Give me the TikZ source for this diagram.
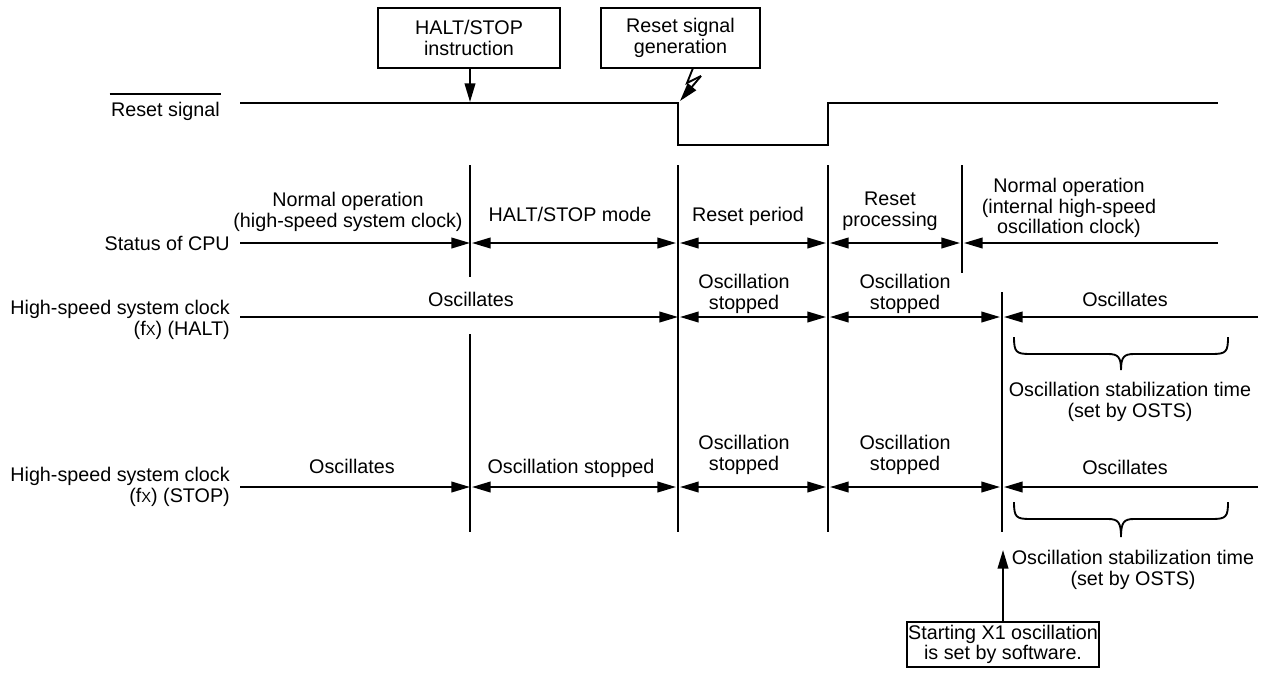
\documentclass[tikz,border=0pt]{standalone}
\usepackage{fontspec}
\setmainfont{Liberation Sans}
\usetikzlibrary{arrows.meta}
\begin{document}
\begin{tikzpicture}[x=0.75pt,y=-0.75pt,
  every node/.style={font=\fontsize{14.8}{15.5}\selectfont, inner sep=0pt},
  txt/.style={anchor=north, align=center},
  lbl/.style={anchor=north east, align=right},
  wire/.style={line width=1.4pt},
  sig/.style={line width=1.9pt},
  head/.style={-{Triangle[length=14pt,width=8pt]}},
  twohead/.style={{Triangle[length=14pt,width=8pt]}-{Triangle[length=14pt,width=8pt]}},
  box/.style={draw, line width=1.4pt, align=center, inner sep=0pt}
]
\useasboundingbox (0,0) rectangle (1269,672);

% ---- event boxes ----
\node[box, minimum width=136.5pt, minimum height=45pt] (halt) at (469,38) {HALT/STOP\\instruction};
\node[box, minimum width=119.25pt, minimum height=45pt] (rgen) at (680.5,38) {Reset signal\\generation};
\node[box, minimum width=144pt, minimum height=33.75pt] (sw) at (1003,644.5) {Starting X1 oscillation\\is set by software.};

% ---- reset signal waveform ----
\coordinate (r0) at (240,103);
\coordinate (rf) at (678,103);
\coordinate (rl) at (678,145);
\coordinate (rh) at (828,145);
\coordinate (rr) at (828,103);
\coordinate (r1) at (1218,103);
\draw[sig] (r0) -- (rf) -- (rl) -- (rh) -- (rr) -- (r1);
\coordinate (hitA) at (470,102);
\draw[wire, head] (halt.south -| hitA) -- (hitA);
% lightning from the reset source
\coordinate (z0) at (693,68);
\coordinate (z1) at (687,83);
\coordinate (z2) at (701,76);
\coordinate (z3) at (680,101);
\draw[wire, line join=miter] (z0) -- (z1) -- (z2);
\draw[wire, head] (z2) -- (z3);

% ---- row labels ----
\node[anchor=north east] (lres) at (220,102) {Reset signal};
\draw[line width=1.4pt] ([xshift=-1pt,yshift=6pt]lres.north west) -- ([xshift=1pt,yshift=6pt]lres.north east);
\node[anchor=east] (lcpu) at (230,243) {Status of CPU};
\node[lbl] (lhalt) at (230,300) {High-speed system clock\\(f{\fontsize{11}{11}\selectfont X}) (HALT)};
\node[lbl] (lstop) at (230,467) {High-speed system clock\\(f{\fontsize{11}{11}\selectfont X}) (STOP)};

% ---- boundary lines ----
\coordinate (a1) at (470,165); \coordinate (a2) at (470,277);
\coordinate (a3) at (470,334); \coordinate (a4) at (470,532);
\coordinate (b1) at (678,165); \coordinate (b2) at (678,532);
\coordinate (c1) at (828,165); \coordinate (c2) at (828,532);
\coordinate (d1) at (962,165); \coordinate (d2) at (962,273);
\coordinate (e1) at (1002,292); \coordinate (e2) at (1002,532);
\draw[wire] (a1) -- (a2) (a3) -- (a4) (b1) -- (b2) (c1) -- (c2) (d1) -- (d2) (e1) -- (e2);

% ---- status of CPU ----
\coordinate (p0) at (240,243); \coordinate (p5) at (1218,243);
\draw[wire, head] (p0) -- (470,243);
\draw[wire, twohead] (472,243) -- (676,243);
\draw[wire, twohead] (680,243) -- (826,243);
\draw[wire, twohead] (830,243) -- (960,243);
\draw[wire, head] (p5) -- (964,243);
\node[txt] (t1) at (348,192) {Normal operation\\(high-speed system clock)};
\node[txt] (t2) at (570,207) {HALT/STOP mode};
\node[txt] (t3) at (748,207) {Reset period};
\node[txt] (t4) at (890,192) {Reset\\processing};
\node[txt] (t5) at (1069,178) {Normal operation\\(internal high-speed\\oscillation clock)};

% ---- high-speed clock, HALT ----
\coordinate (q0) at (240,317); \coordinate (q5) at (1258,317);
\draw[wire, head] (q0) -- (678,317);
\draw[wire, twohead] (680,317) -- (826,317);
\draw[wire, twohead] (830,317) -- (1000,317);
\draw[wire, head] (q5) -- (1004,317);
\node[txt] (h1) at (471,292) {Oscillates};
\node[txt] (h2) at (744,274) {Oscillation\\stopped};
\node[txt] (h3) at (905,274) {Oscillation\\stopped};
\node[txt] (h4) at (1125,292) {Oscillates};
\draw[wire] (1014,337) .. controls (1014,352) and (1016,354) .. (1030,354)
  -- (1108,354) .. controls (1118,354) and (1121,357) .. (1121,370)
  .. controls (1121,357) and (1124,354) .. (1134,354)
  -- (1212,354) .. controls (1226,354) and (1228,352) .. (1228,337);
\node[txt] (h5) at (1130,382) {Oscillation stabilization time\\(set by OSTS)};

% ---- high-speed clock, STOP ----
\coordinate (s0) at (240,487); \coordinate (s5) at (1258,487);
\draw[wire, head] (s0) -- (470,487);
\draw[wire, twohead] (472,487) -- (676,487);
\draw[wire, twohead] (680,487) -- (826,487);
\draw[wire, twohead] (830,487) -- (1000,487);
\draw[wire, head] (s5) -- (1004,487);
\node[txt] (k1) at (352,459) {Oscillates};
\node[txt] (k2) at (571,459) {Oscillation stopped};
\node[txt] (k3) at (744,435) {Oscillation\\stopped};
\node[txt] (k4) at (905,435) {Oscillation\\stopped};
\node[txt] (k5) at (1125,460) {Oscillates};
\draw[wire] (1014,502) .. controls (1014,517) and (1016,519) .. (1030,519)
  -- (1108,519) .. controls (1118,519) and (1121,522) .. (1121,537)
  .. controls (1121,522) and (1124,519) .. (1134,519)
  -- (1212,519) .. controls (1226,519) and (1228,517) .. (1228,502);
\node[txt] (k6) at (1133,550) {Oscillation stabilization time\\(set by OSTS)};

% ---- software start ----
\coordinate (swtip) at (1003,550);
\draw[wire, head] (sw.north) -- (swtip);
\end{tikzpicture}
\end{document}
